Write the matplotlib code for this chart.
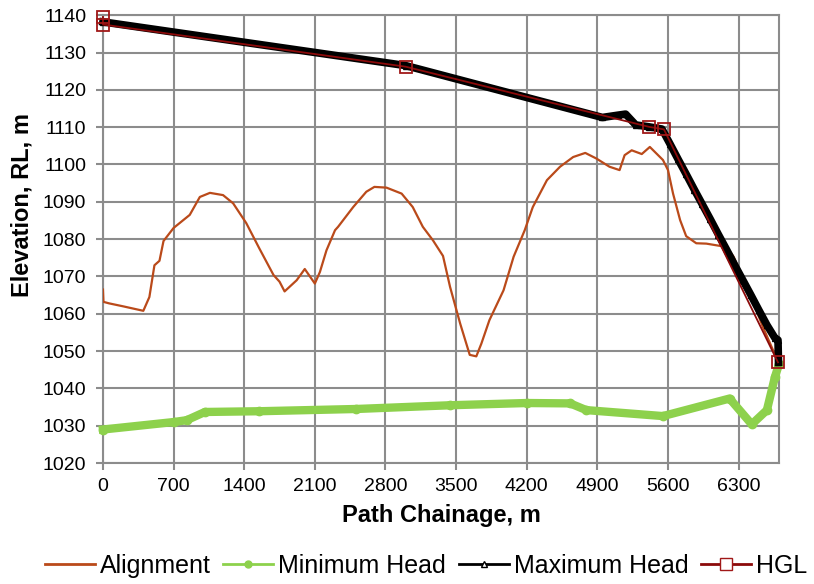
import matplotlib.pyplot as plt
from matplotlib.lines import Line2D
from matplotlib.ticker import MultipleLocator

plt.rcParams['font.family'] = ['Liberation Sans', 'DejaVu Sans']

# ground profile along the pipe route
align_x = [0, 5, 60, 200, 400, 460, 510, 560, 600, 700, 860, 960, 1060, 1190, 1290,
           1420, 1550, 1690, 1750, 1800, 1920, 2000, 2100, 2150, 2215, 2300, 2330,
           2480, 2610, 2690, 2810, 2960, 3070, 3170, 3270, 3370, 3440, 3540, 3635,
           3700, 3750, 3830, 3970, 4070, 4180, 4260, 4400, 4530, 4660, 4780, 4890,
           5020, 5120, 5170, 5240, 5340, 5420, 5550, 5600, 5650, 5720, 5780, 5880,
           5980, 6180, 6250, 6410, 6540, 6640, 6690]
align_y = [1066.5, 1063.2, 1062.8, 1062.0, 1060.8, 1064.5, 1073.0, 1074.2, 1079.5,
           1083.0, 1086.5, 1091.3, 1092.4, 1091.8, 1089.6, 1084.3, 1077.5, 1070.4,
           1068.6, 1066.0, 1069.0, 1072.0, 1068.1, 1071.2, 1077.0, 1082.4, 1083.3,
           1088.6, 1092.7, 1094.0, 1093.8, 1092.2, 1088.6, 1083.3, 1079.7, 1075.5,
           1067.2, 1057.4, 1049.0, 1048.6, 1052.0, 1058.3, 1066.3, 1075.3, 1082.4,
           1088.6, 1095.8, 1099.4, 1102.0, 1103.1, 1101.6, 1099.4, 1098.5, 1102.5,
           1103.8, 1102.8, 1104.7, 1101.2, 1098.5, 1092.2, 1085.1, 1080.8, 1078.9,
           1078.8, 1077.9, 1075.3, 1065.4, 1056.5, 1050.3, 1047.1]

# minimum head
min_x = [0, 700, 830, 1010, 1550, 2510, 3440, 4200, 4630, 4790, 5550, 6210, 6430,
         6580, 6660, 6700]
min_y = [1029.0, 1031.0, 1031.5, 1033.7, 1033.9, 1034.5, 1035.5, 1036.1, 1036.0,
         1034.2, 1032.6, 1037.3, 1030.4, 1034.2, 1043.1, 1046.5]

# maximum head
max_x = [0, 3000, 4950, 5100, 5180, 5280, 5410, 5540, 5620, 5700, 5780, 5860, 5940,
         6020, 6100, 6180, 6260, 6340, 6420, 6500, 6580, 6660, 6690, 6695]
max_y = [1138.2, 1126.5, 1112.6, 1113.2, 1113.5, 1110.6, 1110.1, 1109.5, 1105.5,
         1101.4, 1097.4, 1093.3, 1089.3, 1085.3, 1081.2, 1077.2, 1073.1, 1069.1,
         1065.1, 1061.0, 1057.0, 1053.5, 1053.0, 1047.0]

# hydraulic grade line
hgl_x = [0, 0, 3000, 5410, 5560, 6690]
hgl_y = [1139.5, 1137.5, 1126.2, 1110.1, 1109.4, 1047.0]

fig = plt.figure(figsize=(8.14, 5.84), dpi=100)
ax = fig.add_axes([0.1265, 0.207, 0.8305, 0.767])

ax.plot(align_x, align_y, color='#BA4A1A', lw=1.6, zorder=3)
ax.plot(min_x, min_y, color='#8DD14C', lw=6, marker='o', ms=6, zorder=4,
        clip_on=False)
ax.plot(max_x, max_y, color='black', lw=5.5, marker='^', ms=4, zorder=5,
        clip_on=False)
ax.plot(hgl_x, hgl_y, color='#8B0A0A', lw=1.3, marker='s', ms=8,
        mfc='none', mec='#A01818', mew=1.3, zorder=6, clip_on=False)

ax.set_xlim(0, 6700)
ax.set_ylim(1020, 1140)
ax.xaxis.set_major_locator(MultipleLocator(700))
ax.yaxis.set_major_locator(MultipleLocator(10))
ax.grid(True, color='#8C8C8C', lw=1.5)
ax.set_axisbelow(True)
for s in ax.spines.values():
    s.set_color('#8C8C8C')
    s.set_linewidth(1.5)
ax.tick_params(colors='#8C8C8C', width=1.5, length=5, labelsize=14,
               labelcolor='black')
ax.tick_params(axis='y', pad=7)
ax.tick_params(axis='x', pad=6)

ax.set_xlabel('Path Chainage, m', fontsize=17, fontweight='bold', va='center')
ax.set_ylabel('Elevation, RL, m', fontsize=17, fontweight='bold', va='center')
ax.xaxis.set_label_coords(0.5, -0.116)
ax.yaxis.set_label_coords(-0.12, 0.576)

handles = [
    Line2D([], [], color='#BA4A1A', lw=2),
    Line2D([], [], color='#8DD14C', lw=2, marker='o', ms=5),
    Line2D([], [], color='black', lw=2, marker='^', ms=4, mfc='white', mec='black'),
    Line2D([], [], color='#8B0A0A', lw=2, marker='s', ms=8, mfc='white',
           mec='#A01818'),
]
labels = ['Alignment', 'Minimum Head', 'Maximum Head', 'HGL']
ax.legend(handles, labels, loc='center', bbox_to_anchor=(0.478, -0.23), ncol=4,
          frameon=False, fontsize=18, handlelength=2.0, handletextpad=0.2,
          columnspacing=0.5, borderaxespad=0)

fig.savefig('out.png', dpi=100)
